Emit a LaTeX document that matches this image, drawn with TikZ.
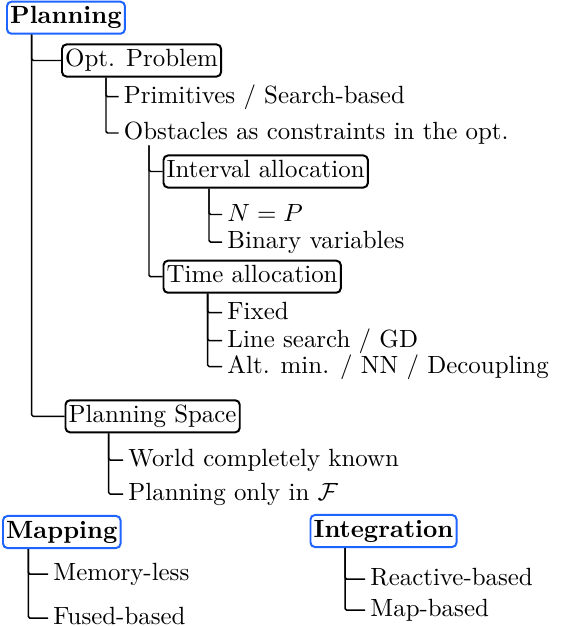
\documentclass[tikz,border=0pt]{standalone}
\usepackage{amsmath}
\definecolor{boxblue}{RGB}{30,100,255}
\begin{document}
\begin{tikzpicture}[x=0.4016pt,y=-0.4016pt,
  box/.style={draw=black,line width=0.8pt,rounded corners=1.8pt,inner xsep=1.3pt,inner ysep=2pt,
    text height=6.94pt,text depth=1.94pt,anchor=west,font=\fontsize{10}{12}\selectfont},
  topbox/.style={box,draw=boxblue,font=\fontsize{10}{12}\selectfont\bfseries},
  leaf/.style={inner xsep=2pt,inner ysep=0pt,text height=7.5pt,text depth=2pt,anchor=west,
    font=\fontsize{10}{12}\selectfont},
  conn/.style={line width=0.6pt,rounded corners=0.6pt}]
\useasboundingbox (0,0) rectangle (581,626);
% boxes
\node[topbox] (plan) at (6,17.7) {Planning};
\node[box] (opt) at (61,60.5) {Opt. Problem};
\node[leaf] (prim) at (118.5,96.7) {Primitives / Search-based};
\node[leaf] (obs) at (118.5,133) {Obstacles as constraints in the opt.};
\node[box] (int) at (162.5,171.5) {Interval allocation};
\node[leaf] (np) at (222,214.5) {$N=P$};
\node[leaf] (bin) at (222,242) {Binary variables};
\node[box] (time) at (162.5,276.7) {Time allocation};
\node[leaf] (fix) at (222,312.5) {Fixed};
\node[leaf] (ls) at (222,340.5) {Line search / GD};
\node[leaf] (alt) at (222,366.5) {Alt. min. / NN / Decoupling};
\node[box] (ps) at (64.5,416.3) {Planning Space};
\node[leaf] (world) at (123,460) {World completely known};
\node[leaf] (only) at (123,494) {Planning only in $\mathcal{F}$};
\node[topbox] (map) at (2,532) {Mapping};
\node[leaf] (mem) at (48,574) {Memory-less};
\node[leaf] (fused) at (48,618) {Fused-based};
\node[topbox] (integ) at (309.5,531) {Integration};
\node[leaf] (react) at (365,579) {Reactive-based};
\node[leaf] (mapb) at (365,610) {Map-based};
% trunk coordinates
\coordinate (tplan) at (31.7,0);
\coordinate (topt) at (106,0);
\coordinate (tobs) at (149,0);
\coordinate (tint) at (209,0);
\coordinate (ttime) at (207.7,0);
\coordinate (tps) at (108.7,0);
\coordinate (tmap) at (28.3,0);
\coordinate (tinteg) at (345,0);
% connectors
\draw[conn] (plan.south -| tplan) |- (opt.west);
\draw[conn] (plan.south -| tplan) |- (ps.west);
\draw[conn] (opt.south -| topt) |- (prim.west);
\draw[conn] (opt.south -| topt) |- (obs.west);
\draw[conn] (obs.south -| tobs) |- (int.west);
\draw[conn] (obs.south -| tobs) |- (time.west);
\draw[conn] (int.south -| tint) |- (np.west);
\draw[conn] (int.south -| tint) |- (bin.west);
\draw[conn] (time.south -| ttime) |- (fix.west);
\draw[conn] (time.south -| ttime) |- (ls.west);
\draw[conn] (time.south -| ttime) |- (alt.west);
\draw[conn] (ps.south -| tps) |- (world.west);
\draw[conn] (ps.south -| tps) |- (only.west);
\draw[conn] (map.south -| tmap) |- (mem.west);
\draw[conn] (map.south -| tmap) |- (fused.west);
\draw[conn] (integ.south -| tinteg) |- (react.west);
\draw[conn] (integ.south -| tinteg) |- (mapb.west);
\end{tikzpicture}
\end{document}
